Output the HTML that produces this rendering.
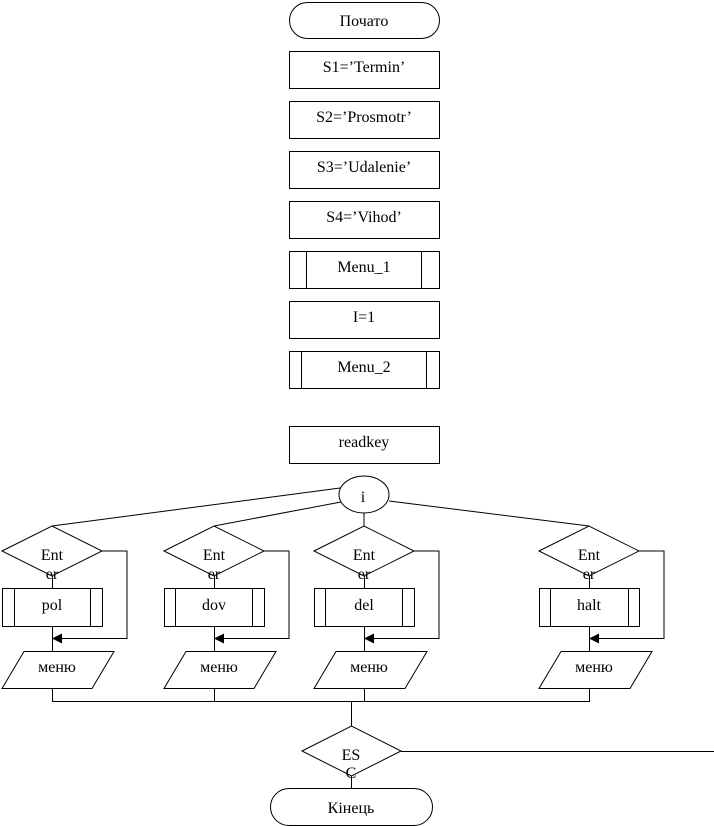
<!DOCTYPE html>
<html><head><meta charset="utf-8"><style>
html,body{margin:0;padding:0;background:#fff;}
svg{display:block;}
text{font-family:"Liberation Serif","DejaVu Serif",serif;font-size:16px;fill:#000;text-anchor:middle;}
</style></head><body>
<svg width="714" height="826" viewBox="0 0 714 826" xmlns="http://www.w3.org/2000/svg">
<g fill="none" stroke="#000" stroke-width="1">
<rect x="289.5" y="2.5" width="150" height="36" rx="18" ry="18"/>
<rect x="289.5" y="51.5" width="150" height="37"/>
<rect x="289.5" y="101.5" width="150" height="37"/>
<rect x="289.5" y="151.5" width="150" height="37"/>
<rect x="289.5" y="201.5" width="150" height="37"/>
<rect x="289.5" y="251.5" width="150" height="37"/>
<line x1="306.5" y1="251.5" x2="306.5" y2="288.5"/><line x1="421.5" y1="251.5" x2="421.5" y2="288.5"/>
<rect x="289.5" y="301.5" width="150" height="37"/>
<rect x="289.5" y="351.5" width="150" height="37"/>
<line x1="301.5" y1="351.5" x2="301.5" y2="388.5"/><line x1="426.5" y1="351.5" x2="426.5" y2="388.5"/>
<rect x="289.5" y="426.5" width="150" height="37"/>
<ellipse cx="364" cy="494.5" rx="25" ry="18.5"/>
<line x1="340" y1="488" x2="52" y2="526"/>
<line x1="341" y1="502" x2="214" y2="526"/>
<line x1="364" y1="513" x2="364" y2="526"/>
<line x1="389" y1="501" x2="589" y2="526"/>
</g>
<g fill="none" stroke="#000" stroke-width="1">
<path d="M2,551 L52,526 L102,551 L52,576 Z"/>
<polyline points="102,551 127,551 127,638.5 62,638.5"/>
<rect x="2.5" y="588.5" width="100" height="38"/><line x1="14.5" y1="588.5" x2="14.5" y2="626.5"/><line x1="90.5" y1="588.5" x2="90.5" y2="626.5"/>
<line x1="52.5" y1="576" x2="52.5" y2="588"/><line x1="52.5" y1="627" x2="52.5" y2="651"/>
<path d="M24,651.5 L114,651.5 L92,688.5 L2,688.5 Z"/>
<line x1="52.5" y1="688" x2="52.5" y2="701"/>
<path d="M164,551 L214,526 L264,551 L214,576 Z"/>
<polyline points="264,551 289,551 289,638.5 224,638.5"/>
<rect x="164.5" y="588.5" width="100" height="38"/><line x1="175.5" y1="588.5" x2="175.5" y2="626.5"/><line x1="252.5" y1="588.5" x2="252.5" y2="626.5"/>
<line x1="214.5" y1="576" x2="214.5" y2="588"/><line x1="214.5" y1="627" x2="214.5" y2="651"/>
<path d="M186,651.5 L276,651.5 L254,688.5 L164,688.5 Z"/>
<line x1="214.5" y1="688" x2="214.5" y2="701"/>
<path d="M314,551 L364,526 L414,551 L364,576 Z"/>
<polyline points="414,551 439,551 439,638.5 374,638.5"/>
<rect x="314.5" y="588.5" width="100" height="38"/><line x1="325.5" y1="588.5" x2="325.5" y2="626.5"/><line x1="402.5" y1="588.5" x2="402.5" y2="626.5"/>
<line x1="364.5" y1="576" x2="364.5" y2="588"/><line x1="364.5" y1="627" x2="364.5" y2="651"/>
<path d="M336,651.5 L427,651.5 L405,688.5 L314,688.5 Z"/>
<line x1="364.5" y1="688" x2="364.5" y2="701"/>
<path d="M539,551 L589,526 L639,551 L589,576 Z"/>
<polyline points="639,551 664,551 664,638.5 599,638.5"/>
<rect x="539.5" y="588.5" width="100" height="38"/><line x1="550.5" y1="588.5" x2="550.5" y2="626.5"/><line x1="628.5" y1="588.5" x2="628.5" y2="626.5"/>
<line x1="589.5" y1="576" x2="589.5" y2="588"/><line x1="589.5" y1="627" x2="589.5" y2="651"/>
<path d="M561,651.5 L652,651.5 L630,688.5 L539,688.5 Z"/>
<line x1="589.5" y1="688" x2="589.5" y2="701"/>
<line x1="52" y1="701.5" x2="590" y2="701.5"/>
<line x1="351.5" y1="701" x2="351.5" y2="726"/>
<path d="M302,751 L351.5,726 L401,751 L351.5,776 Z"/>
<line x1="401" y1="751.5" x2="714" y2="751.5"/>
<line x1="351.5" y1="776" x2="351.5" y2="788"/>
<rect x="270.5" y="788.5" width="162" height="37" rx="18.5" ry="18.5"/>
</g>
<g fill="#000">
<path d="M52,638.5 L62,633.5 L62,643.5 Z"/>
<path d="M214,638.5 L224,633.5 L224,643.5 Z"/>
<path d="M364,638.5 L374,633.5 L374,643.5 Z"/>
<path d="M589,638.5 L599,633.5 L599,643.5 Z"/>
</g>
<text x="364" y="26">Початo</text>
<text x="364" y="72">S1=’Termin’</text>
<text x="364" y="122">S2=’Prosmotr’</text>
<text x="364" y="172">S3=’Udalenie’</text>
<text x="364" y="222">S4=’Vihod’</text>
<text x="364" y="272">Menu_1</text>
<text x="364" y="322">I=1</text>
<text x="364" y="372">Menu_2</text>
<text x="364" y="447">readkey</text>
<text x="363" y="502">i</text>
<text x="52" y="560">Ent</text><text x="52" y="579">er</text>
<text x="214" y="560">Ent</text><text x="214" y="579">er</text>
<text x="364" y="560">Ent</text><text x="364" y="579">er</text>
<text x="589" y="560">Ent</text><text x="589" y="579">er</text>
<text x="52" y="610">pol</text>
<text x="214" y="610">dov</text>
<text x="364" y="610">del</text>
<text x="589" y="610">halt</text>
<text x="57" y="672">меню</text>
<text x="219" y="672">меню</text>
<text x="369" y="672">меню</text>
<text x="594" y="672">меню</text>
<text x="351" y="760">ES</text><text x="351" y="778">C</text>
<text x="351" y="813">Кінець</text>
</svg>
</body></html>
